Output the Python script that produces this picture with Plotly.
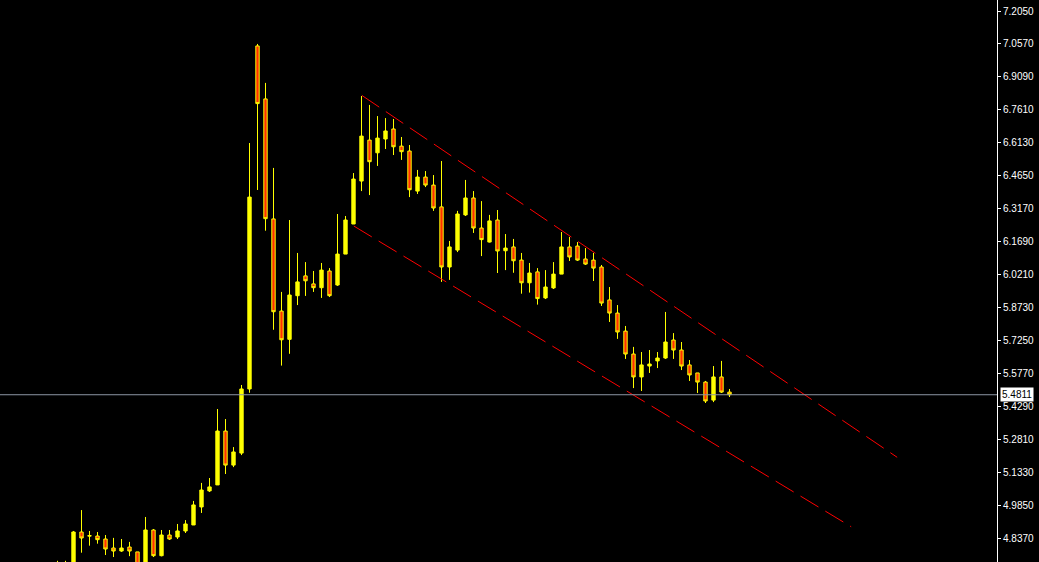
import plotly.graph_objects as go

# ---- data ----
idx = list(range(85))
opens = [4.70, 4.71, 4.70, 4.8645, 4.846, 4.8465, 4.833, 4.7926, 4.779, 4.797,
         4.775, 4.71, 4.8735, 4.758, 4.851, 4.842, 4.869, 4.896, 4.977, 5.049,
         5.076, 5.318, 5.165, 5.219, 5.507, 7.048, 6.810, 6.271, 5.857, 5.730,
         5.926, 6.015, 5.979, 5.962, 6.037, 5.974, 6.113, 6.248, 6.441, 6.625,
         6.568, 6.630, 6.675, 6.598, 6.576, 6.396, 6.459, 6.423, 6.325, 6.055,
         6.131, 6.289, 6.365, 6.230, 6.167, 6.266, 6.128, 6.145, 6.086, 5.984,
         6.033, 5.916, 5.961, 6.023, 6.145, 6.149, 6.091, 6.086, 6.055, 5.907,
         5.848, 5.767, 5.664, 5.561, 5.610, 5.633, 5.646, 5.727, 5.682, 5.615,
         5.579, 5.538, 5.457, 5.561, 5.493]
highs = [4.735, 4.735, 4.869, 4.963, 4.869, 4.8645, 4.851, 4.838, 4.833, 4.820,
         4.775, 4.932, 4.878, 4.8735, 4.8735, 4.9005, 4.918, 5.004, 5.085, 5.107,
         5.417, 5.372, 5.246, 5.525, 6.612, 7.057, 6.882, 6.500, 5.943, 6.266,
         6.118, 6.077, 6.037, 6.073, 6.050, 6.293, 6.284, 6.477, 6.823, 6.783,
         6.733, 6.724, 6.720, 6.639, 6.603, 6.491, 6.486, 6.468, 6.531, 6.172,
         6.307, 6.446, 6.396, 6.351, 6.289, 6.311, 6.203, 6.181, 6.118, 6.073,
         6.050, 6.041, 6.077, 6.212, 6.190, 6.167, 6.140, 6.118, 6.064, 5.965,
         5.884, 5.790, 5.696, 5.673, 5.682, 5.673, 5.853, 5.758, 5.718, 5.637,
         5.579, 5.543, 5.610, 5.633, 5.507]
lows = [4.68, 4.69, 4.69, 4.7715, 4.803, 4.812, 4.761, 4.752, 4.775, 4.756,
        4.68, 4.70, 4.752, 4.755, 4.829, 4.833, 4.860, 4.896, 4.950, 5.044,
        5.076, 5.125, 5.156, 5.210, 5.49, 6.401, 6.218, 5.773, 5.612, 5.665,
        5.884, 5.925, 5.943, 5.916, 5.920, 5.970, 6.113, 6.248, 6.396, 6.378,
        6.509, 6.585, 6.558, 6.536, 6.369, 6.383, 6.414, 6.307, 5.988, 5.997,
        6.122, 6.284, 6.208, 6.104, 6.165, 6.028, 6.041, 6.029, 5.935, 5.940,
        5.886, 5.911, 5.956, 6.023, 6.082, 6.082, 6.064, 5.992, 5.880, 5.808,
        5.732, 5.642, 5.511, 5.498, 5.579, 5.601, 5.642, 5.642, 5.592, 5.543,
        5.489, 5.444, 5.448, 5.489, 5.471]
closes = [4.72, 4.72, 4.8645, 4.8375, 4.848, 4.830, 4.788, 4.779, 4.7926, 4.779,
          4.70, 4.8735, 4.758, 4.851, 4.833, 4.869, 4.9005, 4.986, 5.053, 5.067,
          5.318, 5.165, 5.224, 5.507, 6.369, 6.789, 6.272, 5.854, 5.728, 5.929,
          5.988, 5.993, 5.962, 6.041, 5.926, 6.113, 6.266, 6.450, 6.643, 6.528,
          6.634, 6.666, 6.595, 6.573, 6.402, 6.459, 6.423, 6.320, 6.055, 6.145,
          6.293, 6.365, 6.230, 6.178, 6.262, 6.127, 6.140, 6.083, 5.984, 6.028,
          5.913, 5.965, 6.023, 6.145, 6.100, 6.086, 6.068, 6.050, 5.893, 5.848,
          5.763, 5.664, 5.561, 5.615, 5.619, 5.646, 5.718, 5.682, 5.610, 5.570,
          5.538, 5.453, 5.561, 5.493, 5.4811]

upper_x = [38.04, 104.96]
upper_y = [6.826, 5.200]
lower_x = [37.04, 99.21]
lower_y = [6.239, 4.888]

last_price = 5.4811
tick_vals = [7.2050, 7.0570, 6.9090, 6.7610, 6.6130, 6.4650, 6.3170, 6.1690,
             6.0210, 5.8730, 5.7250, 5.5770, 5.4290, 5.2810, 5.1330, 4.9850, 4.8370]
tick_text = ["%.4f" % v for v in tick_vals]

# ---- figure ----
fig = go.Figure()
fig.add_trace(go.Candlestick(
    x=idx, open=opens, high=highs, low=lows, close=closes,
    increasing=dict(fillcolor="#FFFF00", line=dict(color="#FFFF00", width=1)),
    decreasing=dict(fillcolor="#FF3000", line=dict(color="#FFFF00", width=1)),
    whiskerwidth=0, hoverinfo="skip", showlegend=False,
))
for xs, ys in ((upper_x, upper_y), (lower_x, lower_y)):
    fig.add_trace(go.Scatter(
        x=xs, y=ys, mode="lines",
        line=dict(color="#FF0000", width=1, dash="21px,8px"),
        hoverinfo="skip", showlegend=False,
    ))

fig.add_shape(type="line", xref="paper", x0=0, x1=1, yref="y",
              y0=last_price, y1=last_price,
              line=dict(color="#8C96A4", width=1))
fig.add_annotation(xref="paper", x=1, xanchor="left", xshift=3,
                   yref="y", y=last_price, yanchor="middle",
                   text="%.4f" % last_price, showarrow=False,
                   bgcolor="#FFFFFF", borderpad=1,
                   font=dict(family="Liberation Sans", size=10, color="#000000"))

fig.update_layout(
    width=1039, height=562,
    margin=dict(l=0, r=42, t=0, b=0),
    paper_bgcolor="#000000", plot_bgcolor="#000000",
    boxgap=0.4,
    showlegend=False,
    xaxis=dict(range=[-7.1875, 117.4375], visible=False, showgrid=False,
               zeroline=False, rangeslider=dict(visible=False), fixedrange=True),
    yaxis=dict(range=[4.7297, 7.2544], side="right", showgrid=False,
               zeroline=False, showline=True, linecolor="#FFFFFF", linewidth=1,
               ticks="outside", ticklen=3, tickcolor="#FFFFFF", tickwidth=1,
               tickvals=tick_vals, ticktext=tick_text, automargin=False,
               tickfont=dict(family="Liberation Sans", size=10, color="#FFFFFF"),
               fixedrange=True),
)

fig.write_html(
    "out.html",
    config={"displayModeBar": False},
    post_script="document.body.style.margin='0';document.body.style.background='#000';"
                "document.body.style.overflow='hidden';",
)
